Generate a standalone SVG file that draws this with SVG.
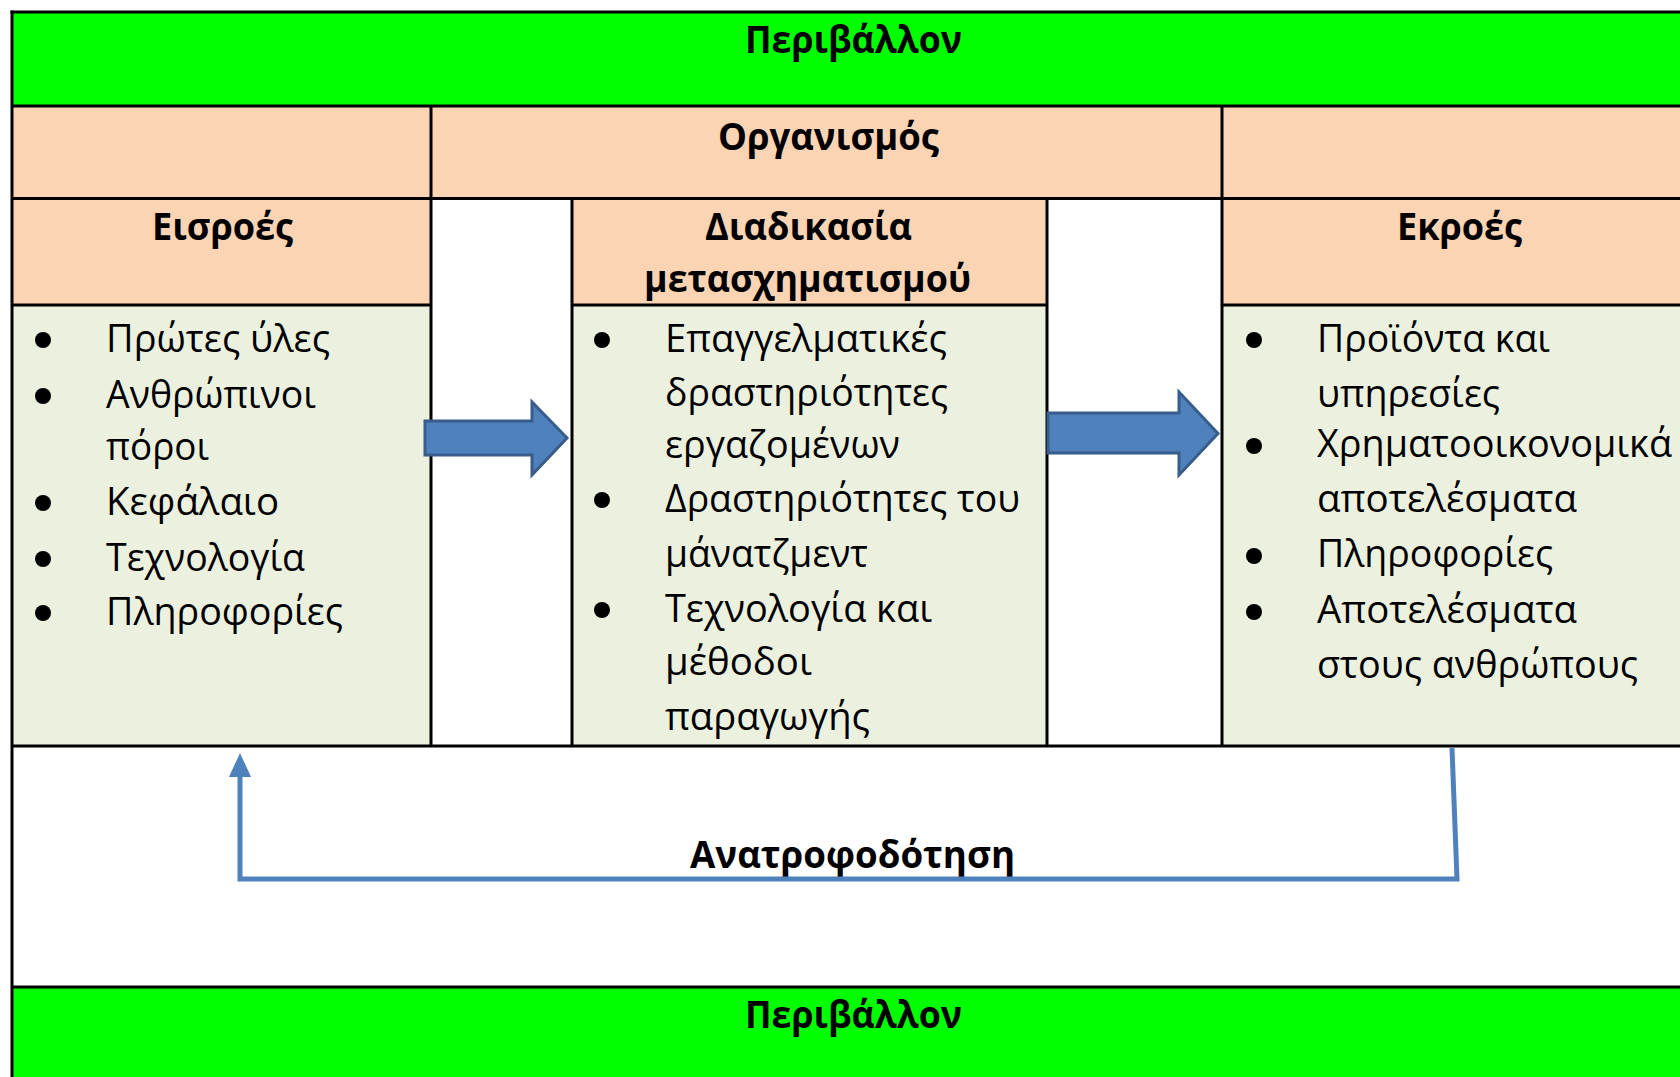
<svg xmlns="http://www.w3.org/2000/svg" width="1680" height="1077" viewBox="0 0 1680 1077">
<style>
.t{font-family:"Open Sans","Noto Sans","DejaVu Sans",sans-serif;font-size:38px;fill:#000}
.h{font-weight:bold}
.b{fill:#000}
.ln{stroke:#000;stroke-width:3;fill:none}
.blk{fill:#4F81BD;stroke:#385D8A;stroke-width:3;stroke-linejoin:miter}
.fb{stroke:#4F81BD;stroke-width:5;fill:none}
</style>
<defs>
<marker id="ah" markerUnits="userSpaceOnUse" markerWidth="24" markerHeight="26" refX="0" refY="12" orient="auto" viewBox="0 0 26 24">
<path d="M0,0 L26,12 L0,24 Z" fill="#4F81BD"/>
</marker>
</defs>
<rect x="0" y="0" width="1680" height="1077" fill="#fff"/>
<g id="table-fills">
<rect x="12" y="12" width="1700" height="94" fill="#00FF00"/>
<rect x="12" y="106" width="1700" height="92" fill="#FBD4B4"/>
<rect x="12" y="198" width="419" height="107" fill="#FBD4B4"/>
<rect x="572" y="198" width="475" height="107" fill="#FBD4B4"/>
<rect x="1222" y="198" width="480" height="107" fill="#FBD4B4"/>
<rect x="12" y="305" width="419" height="441" fill="#EBF1DE"/>
<rect x="572" y="305" width="475" height="441" fill="#EBF1DE"/>
<rect x="1222" y="305" width="480" height="441" fill="#EBF1DE"/>
<rect x="12" y="987" width="1700" height="100" fill="#00FF00"/>
</g>
<g id="table-borders" class="ln">
<line x1="10.5" y1="12" x2="1700" y2="12"/>
<line x1="12" y1="106" x2="1700" y2="106"/>
<line x1="12" y1="198.5" x2="1700" y2="198.5"/>
<line x1="12" y1="305" x2="431" y2="305"/>
<line x1="572" y1="305" x2="1047" y2="305"/>
<line x1="1222" y1="305" x2="1700" y2="305"/>
<line x1="12" y1="746" x2="1700" y2="746"/>
<line x1="12" y1="987" x2="1700" y2="987"/>
<line x1="12" y1="10.5" x2="12" y2="1080"/>
<line x1="431" y1="106" x2="431" y2="746"/>
<line x1="572" y1="198" x2="572" y2="746"/>
<line x1="1047" y1="198" x2="1047" y2="746"/>
<line x1="1222" y1="106" x2="1222" y2="746"/>
</g>
<g id="env-top">
<text class="t h" x="745" y="53" textLength="217" lengthAdjust="spacingAndGlyphs">Περιβάλλον</text>
</g>
<g id="organization">
<text class="t h" x="718" y="150" textLength="221" lengthAdjust="spacingAndGlyphs">Οργανισμός</text>
</g>
<g id="inputs">
<text class="t h" x="152" y="240" textLength="141" lengthAdjust="spacingAndGlyphs">Εισροές</text>
<circle class="b" cx="43" cy="340" r="8"/>
<circle class="b" cx="43" cy="396" r="8"/>
<circle class="b" cx="43" cy="503" r="8"/>
<circle class="b" cx="43" cy="559" r="8"/>
<circle class="b" cx="43" cy="613" r="8"/>
<text class="t" x="106" y="352" textLength="224" lengthAdjust="spacingAndGlyphs">Πρώτες ύλες</text>
<text class="t" x="106" y="408" textLength="210" lengthAdjust="spacingAndGlyphs">Ανθρώπινοι</text>
<text class="t" x="106" y="460" textLength="103" lengthAdjust="spacingAndGlyphs">πόροι</text>
<text class="t" x="106" y="515" textLength="173" lengthAdjust="spacingAndGlyphs">Κεφάλαιο</text>
<text class="t" x="106" y="571" textLength="199" lengthAdjust="spacingAndGlyphs">Τεχνολογία</text>
<text class="t" x="106" y="625" textLength="237" lengthAdjust="spacingAndGlyphs">Πληροφορίες</text>
</g>
<g id="process">
<text class="t h" x="705" y="240" textLength="207" lengthAdjust="spacingAndGlyphs">Διαδικασία</text>
<text class="t h" x="644" y="292" textLength="327" lengthAdjust="spacingAndGlyphs">μετασχηματισμού</text>
<circle class="b" cx="602" cy="340" r="8"/>
<circle class="b" cx="602" cy="500" r="8"/>
<circle class="b" cx="602" cy="610" r="8"/>
<text class="t" x="665" y="352" textLength="282" lengthAdjust="spacingAndGlyphs">Επαγγελματικές</text>
<text class="t" x="665" y="406" textLength="283" lengthAdjust="spacingAndGlyphs">δραστηριότητες</text>
<text class="t" x="665" y="458" textLength="235" lengthAdjust="spacingAndGlyphs">εργαζομένων</text>
<text class="t" x="665" y="512" textLength="355" lengthAdjust="spacingAndGlyphs">Δραστηριότητες του</text>
<text class="t" x="665" y="567" textLength="203" lengthAdjust="spacingAndGlyphs">μάνατζμεντ</text>
<text class="t" x="665" y="622" textLength="267" lengthAdjust="spacingAndGlyphs">Τεχνολογία και</text>
<text class="t" x="665" y="675" textLength="147" lengthAdjust="spacingAndGlyphs">μέθοδοι</text>
<text class="t" x="665" y="730" textLength="205" lengthAdjust="spacingAndGlyphs">παραγωγής</text>
</g>
<g id="outputs">
<text class="t h" x="1397" y="240" textLength="125" lengthAdjust="spacingAndGlyphs">Εκροές</text>
<circle class="b" cx="1254" cy="340" r="8"/>
<circle class="b" cx="1254" cy="446" r="8"/>
<circle class="b" cx="1254" cy="556" r="8"/>
<circle class="b" cx="1254" cy="612" r="8"/>
<text class="t" x="1317" y="352" textLength="233" lengthAdjust="spacingAndGlyphs">Προϊόντα και</text>
<text class="t" x="1317" y="407" textLength="183" lengthAdjust="spacingAndGlyphs">υπηρεσίες</text>
<text class="t" x="1317" y="457" textLength="355" lengthAdjust="spacingAndGlyphs">Χρηματοοικονομικά</text>
<text class="t" x="1317" y="512" textLength="260" lengthAdjust="spacingAndGlyphs">αποτελέσματα</text>
<text class="t" x="1317" y="567" textLength="236" lengthAdjust="spacingAndGlyphs">Πληροφορίες</text>
<text class="t" x="1317" y="623" textLength="260" lengthAdjust="spacingAndGlyphs">Αποτελέσματα</text>
<text class="t" x="1317" y="678" textLength="321" lengthAdjust="spacingAndGlyphs">στους ανθρώπους</text>
</g>
<g id="feedback-label">
<text class="t h" x="690" y="868" textLength="325" lengthAdjust="spacingAndGlyphs">Ανατροφοδότηση</text>
</g>
<g id="env-bottom">
<text class="t h" x="745" y="1028" textLength="217" lengthAdjust="spacingAndGlyphs">Περιβάλλον</text>
</g>
<g id="connectors">
<polygon class="blk" points="425,421 532,421 532,402 567,438 532,475 532,455 425,455"/>
<polygon class="blk" points="1048,413 1179,413 1179,392 1218,433.5 1179,475 1179,453 1048,453"/>
<path class="fb" d="M1452,748 L1457,879 L240,879 L240,777" marker-end="url(#ah)"/>
</g>
</svg>
